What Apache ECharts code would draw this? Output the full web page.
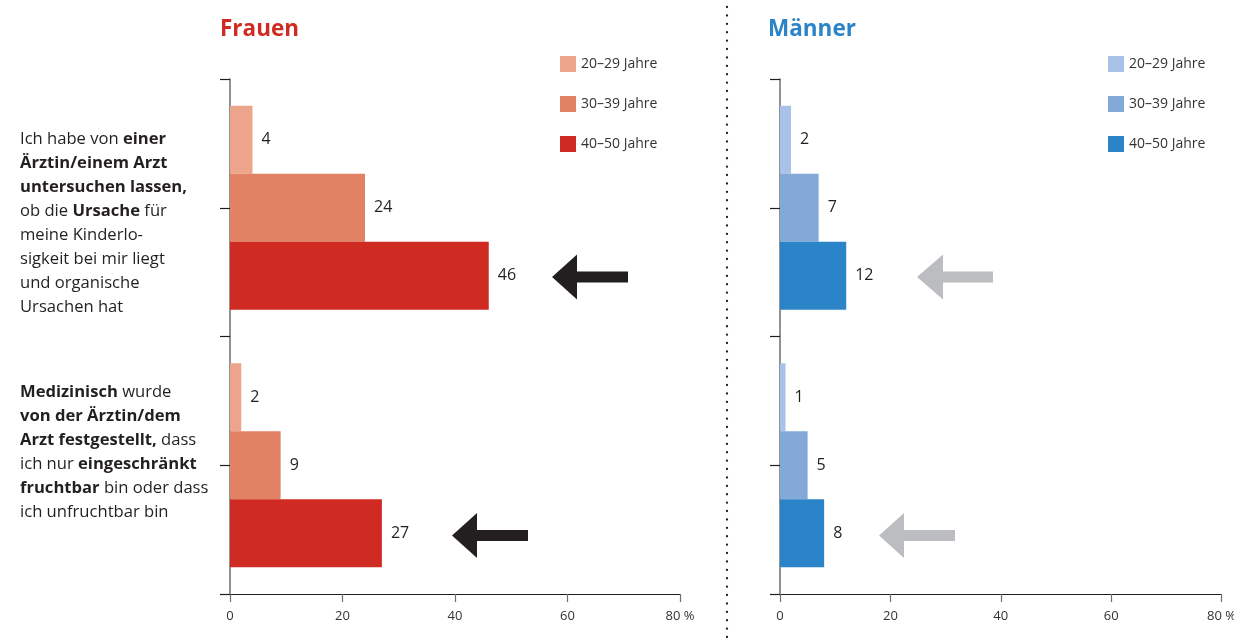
<!DOCTYPE html>
<html><head><meta charset="utf-8">
<script src="https://cdn.jsdelivr.net/npm/echarts@6/dist/echarts.min.js"></script>
<style>html,body{margin:0;padding:0;background:#fff}#c{width:1234px;height:641px}</style>
</head><body><div id="c"></div>
<script>
// ---- data ----
const categories = [
  "Ich habe von **einer**\n**Ärztin/einem Arzt**\n**untersuchen lassen,**\nob die **Ursache** für\nmeine Kinderlo-\nsigkeit bei mir liegt\nund organische\nUrsachen hat",
  "**Medizinisch** wurde\n**von der Ärztin/dem**\n**Arzt festgestellt,** dass\nich nur **eingeschränkt**\n**fruchtbar** bin oder dass\nich unfruchtbar bin"
];
const ageGroups = ["20–29 Jahre", "30–39 Jahre", "40–50 Jahre"];
const panelTitles = ["Frauen", "Männer"];
// values per age group, one value per category
const frauen20 = [4, 2];
const frauen30 = [24, 9];
const frauen40 = [46, 27];
const maenner20 = [2, 1];
const maenner30 = [7, 5];
const maenner40 = [12, 8];
const xTickValues = [0, 20, 40, 60, 80];
const xUnit = "%";

// ---- styling ----
const FONT = "'Open Sans', 'Noto Sans', sans-serif";
const TXT = "#231f20";
const womenColors = ["#eca58b", "#e28265", "#d02b22"];
const menColors = ["#a9c2e7", "#82a9d8", "#2a84c7"];

function toRich(s) {
  return s.split("\n").map(line =>
    line.split("**").map((part, i) => part === "" ? "" : (i % 2 ? "{b|" + part + "}" : "{n|" + part + "}")).join("")
  ).join("\n");
}

const chart = echarts.init(document.getElementById("c"), null, { renderer: "canvas" });

const grids = [
  { left: 230, top: 79, width: 450, bottom: 47, containLabel: false, outerBoundsMode: "none" },
  { left: 780, top: 79, right: 12.5, bottom: 47, containLabel: false, outerBoundsMode: "none" }
];

function xAxisFor(gi) {
  return {
    type: "value", gridIndex: gi, min: xTickValues[0], max: xTickValues[xTickValues.length - 1], interval: 20,
    splitLine: { show: false },
    axisLine: { show: true, lineStyle: { color: TXT, width: 1.2 } },
    axisTick: { show: true, length: 8, lineStyle: { color: "#6d6e71", width: 1.2 } },
    axisLabel: {
      margin: 16, fontSize: 13, color: "#333", fontFamily: FONT,
      formatter: v => v === xTickValues[xTickValues.length - 1] ? v + " " + xUnit : String(v)
    }
  };
}

const yLabelOffsets = [[32, 0, 0, 0], [0, 0, 26, 0]];
const LBL = 16.6;

function yAxesFor(gi, withLabels) {
  return [
    {
      type: "category", gridIndex: gi, inverse: true, position: "left",
      data: categories.map((c, i) => ({ value: c, textStyle: { padding: yLabelOffsets[i], align: "left" } })),
      axisLine: { show: true, lineStyle: { color: "#6d6e71", width: 1.5 } },
      axisTick: { show: true, length: 10, alignWithLabel: false, lineStyle: { color: TXT, width: 1.2 } },
      axisLabel: withLabels ? {
        show: true, align: "left", margin: 210,
        formatter: v => toRich(v),
        rich: {
          n: { fontFamily: FONT, fontSize: LBL, color: TXT, lineHeight: 24 },
          b: { fontFamily: FONT, fontSize: LBL, color: TXT, lineHeight: 24, fontWeight: "bold" }
        }
      } : { show: false }
    },
    {
      type: "category", gridIndex: gi, inverse: true, position: "left", offset: 0, data: categories,
      axisLine: { show: false },
      axisTick: { show: true, length: 10, alignWithLabel: true, lineStyle: { color: TXT, width: 1.2 } },
      axisLabel: { show: false }
    }
  ];
}

function barSeries(prefix, age, values, color, xi, yi) {
  return {
    name: prefix + " " + age, type: "bar", xAxisIndex: xi, yAxisIndex: yi,
    data: values, barWidth: 68, barGap: "0%",
    itemStyle: { color: color },
    label: { show: true, position: "right", distance: 9, fontSize: 16, color: TXT, fontFamily: FONT },
    emphasis: { disabled: true }
  };
}

const womenData = [frauen20, frauen30, frauen40];
const menData = [maenner20, maenner30, maenner40];
const series = [];
ageGroups.forEach((a, i) => series.push(barSeries(panelTitles[0], a, womenData[i], womenColors[i], 0, 0)));
ageGroups.forEach((a, i) => series.push(barSeries(panelTitles[1], a, menData[i], menColors[i], 1, 2)));

function legendFor(prefix, left) {
  return {
    orient: "vertical", left: left, top: 56, padding: 0, itemWidth: 16, itemHeight: 16, itemGap: 24, itemTextGap: 4,
    icon: "rect", selectedMode: false,
    data: ageGroups.map(a => prefix + " " + a),
    formatter: n => n.slice(prefix.length + 1),
    textStyle: { fontSize: 14, color: "#333", fontFamily: FONT }
  };
}

function arrow(tipX, tipY, headBack, tailX, color) {
  const hh = 22.5, sh = 5.5;
  return {
    type: "polygon", silent: true,
    shape: { points: [[tipX, tipY], [headBack, tipY - hh], [headBack, tipY - sh], [tailX, tipY - sh], [tailX, tipY + sh], [headBack, tipY + sh], [headBack, tipY + hh]] },
    style: { fill: color }
  };
}

chart.setOption({
  animation: false,
  textStyle: { fontFamily: FONT },
  title: [
    { text: panelTitles[0], left: 220, top: 18, padding: 0, textStyle: { color: "#d02b22", fontSize: 22.5, fontWeight: "bold", fontFamily: FONT } },
    { text: panelTitles[1], left: 768, top: 18, padding: 0, textStyle: { color: "#2a84c7", fontSize: 22.5, fontWeight: "bold", fontFamily: FONT } }
  ],
  legend: [legendFor(panelTitles[0], 560), legendFor(panelTitles[1], 1108)],
  grid: grids,
  xAxis: [xAxisFor(0), xAxisFor(1)],
  yAxis: [...yAxesFor(0, true), ...yAxesFor(1, false)],
  series: series,
  graphic: [
    { type: "line", silent: true, shape: { x1: 727, y1: 7, x2: 727, y2: 641 },
      style: { stroke: TXT, lineWidth: 2.3, lineDash: [0.1, 8.3], lineCap: "round" } },
    arrow(552, 277, 577, 628, TXT),
    arrow(452, 535.5, 477, 528, TXT),
    arrow(917, 277, 943, 993, "#bcbdc0"),
    arrow(879, 535.5, 904, 955, "#bcbdc0")
  ]
});
</script>
</body></html>
